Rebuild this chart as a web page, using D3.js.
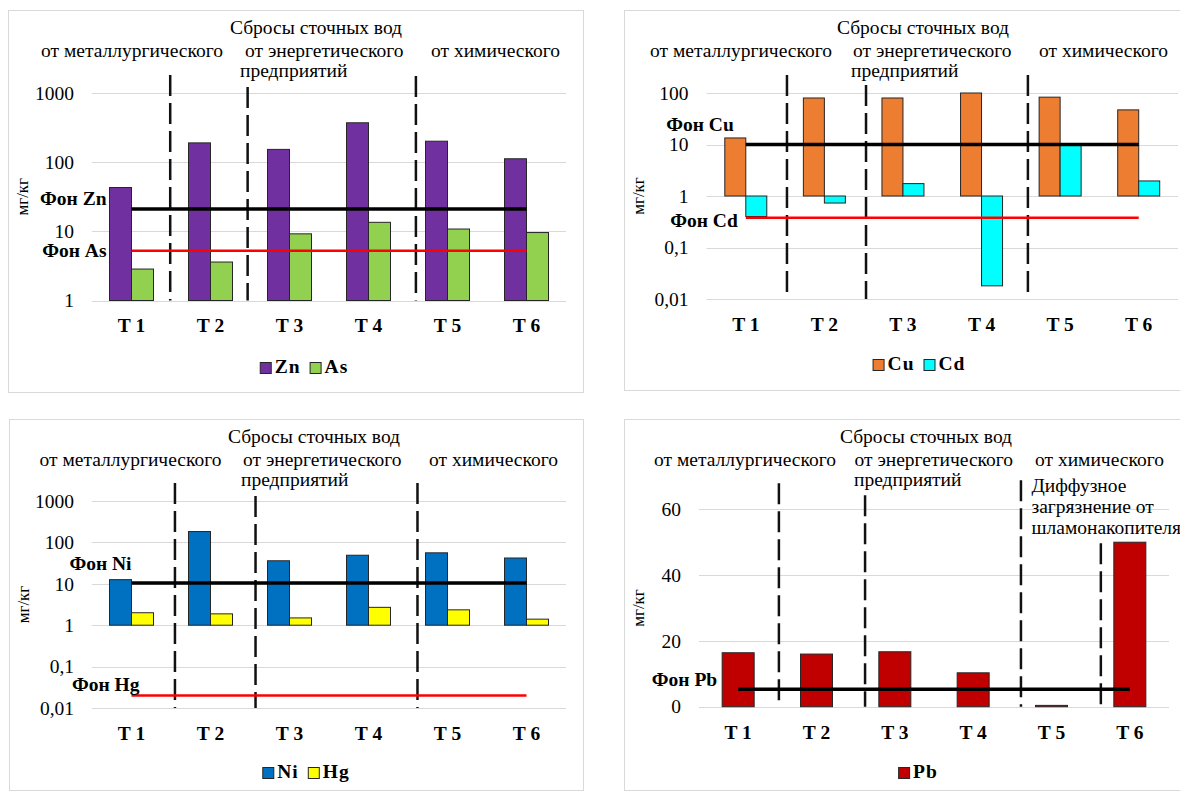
<!DOCTYPE html>
<html>
<head>
<meta charset="utf-8">
<script src="https://cdn.jsdelivr.net/npm/d3@7"></script>
<style>
  body { margin: 0; background: #fff; }
</style>
</head>
<body>
<svg id="chart" width="1180" height="793" font-family="'Liberation Serif', 'Times New Roman', serif"></svg>
<script>
// Sampling points
const categories = ["T 1", "T 2", "T 3", "T 4", "T 5", "T 6"];

// Concentrations, mg/kg
const znValues = [43, 190, 153, 371, 201, 112];
const asValues = [2.85, 3.6, 9.2, 13.5, 10.8, 9.6];
const cuValues = [13.4, 80, 80, 100, 83, 47];
const cdValues = [0.40, 0.73, 1.74, 0.018, 10, 1.96];
const niValues = [12.6, 183, 36, 49, 56, 42];
const hgValues = [2.0, 1.88, 1.5, 2.7, 2.35, 1.4];
const pbValues = [16.4, 16.0, 16.7, 10.3, 0.4, 50];

// Background levels
const fonZn = 21, fonAs = 5.25;
const fonCu = 10, fonCd = 0.38;
const fonNi = 10.5, fonHg = 0.02;
const fonPb = 5.3;

// Axis ticks
const ticksZnAs = [1, 10, 100, 1000];
const ticksCuCd = [0.01, 0.1, 1, 10, 100];
const ticksNiHg = [0.01, 0.1, 1, 10, 100, 1000];
const ticksPb = [0, 20, 40, 60];

// Texts
const headTitle = "Сбросы сточных вод";
const headSources = ["от металлургического", "от энергетического", "от химического"];
const headSub = "предприятий";
const diffuseNote = ["Диффузное", "загрязнение от", "шламонакопителя"];
const yTitle = "мг/кг";

const svg = d3.select("#chart");
const fmt = d => String(d).replace(".", ",");
const TXT = 19.5;

const panels = [
  {
    box: [8, 10, 575, 382], plot: { x0: 92, x1: 566, y0: 93, y1: 300.5 },
    log: true, domain: [1, 1000], ticks: ticksZnAs, tickPad: 18, barWidth: 22,
    series: [{ name: "Zn", values: znValues, color: "#7030A0" }, { name: "As", values: asValues, color: "#92D050" }],
    fon: [{ label: "Фон Zn", value: fonZn, color: "#000", w: 3.5, lx: -25, ly: -9 },
          { label: "Фон As", value: fonAs, color: "#ff0000", w: 2.5, lx: -25, ly: 2 }],
    dividers: [{ f: 0.99, top: -18 }, { f: 1.97, top: -6 }, { f: 4.1, top: -17 }],
    head: [316, 41, 245, 240, 431], legend: [304, 368]
  },
  {
    box: [624, 10, 600, 380], plot: { x0: 706.5, x1: 1178, y0: 93, y1: 299 },
    log: true, domain: [0.01, 100], ticks: ticksCuCd, tickPad: 18, barWidth: 21,
    series: [{ name: "Cu", values: cuValues, color: "#ED7D31" }, { name: "Cd", values: cdValues, color: "#00FFFF" }],
    fon: [{ label: "Фон Cu", value: fonCu, color: "#000", w: 3.5, lx: -12, ly: -18 },
          { label: "Фон Cd", value: fonCd, color: "#ff0000", w: 2.5, lx: -8, ly: 5 }],
    dividers: [{ f: 1.024, top: -18 }, { f: 2.03, top: -8 }, { f: 4.09, top: -18 }],
    head: [923, 650, 853, 851, 1039], legend: [919, 365]
  },
  {
    box: [9, 419, 574, 371], plot: { x0: 92, x1: 566, y0: 501, y1: 708 },
    log: true, domain: [0.01, 1000], ticks: ticksNiHg, tickPad: 18, barWidth: 22,
    series: [{ name: "Ni", values: niValues, color: "#0070C0" }, { name: "Hg", values: hgValues, color: "#FFFF00" }],
    fon: [{ label: "Фон Ni", value: fonNi, color: "#000", w: 3.5, lx: 0, ly: -17 },
          { label: "Фон Hg", value: fonHg, color: "#ff0000", w: 2.5, lx: 8, ly: -9 }],
    dividers: [{ f: 1.05, top: -18 }, { f: 2.07, top: -5 }, { f: 4.12, top: -18 }],
    head: [314, 39.5, 243, 241, 429], legend: [306, 773]
  },
  {
    box: [624, 419, 600, 371], plot: { x0: 699, x1: 1169, y0: 509.3, y1: 706.7 },
    log: false, domain: [0, 60], ticks: ticksPb, tickPad: 18, barWidth: 32,
    series: [{ name: "Pb", values: pbValues, color: "#C00000" }],
    fon: [{ label: "Фон Pb", value: fonPb, color: "#000", w: 3.5, lx: -21, ly: -8 }],
    dividers: [{ f: 1.02, top: -26 }, { f: 2.12, top: -14 }, { f: 4.11, top: -29 }, { f: 5.13, top: 34 }],
    head: [926, 654, 854.5, 854, 1035], legend: [918, 773],
    note: diffuseNote, noteX: 1031.5
  }
];

function drawPanel(p) {
  const [bx, by, bw, bh] = p.box;
  const g = svg.append("g");

  g.append("rect")
    .attr("x", bx + 0.5).attr("y", by + 0.5)
    .attr("width", bw).attr("height", bh)
    .attr("fill", "#fff").attr("stroke", "#d9d9d9");

  const x = d3.scaleBand().domain(categories)
    .range([p.plot.x0, p.plot.x1]);
  const sub = d3.scaleBand().domain(p.series.map(s => s.name))
    .range([-p.barWidth * p.series.length / 2, p.barWidth * p.series.length / 2]);
  const y = (p.log ? d3.scaleLog() : d3.scaleLinear())
    .domain(p.domain).range([p.plot.y1, p.plot.y0]);
  const base = p.log ? 1 : 0;
  const cx = c => x(c) + x.bandwidth() / 2;

  // gridlines
  g.selectAll(".grid").data(p.ticks).join("line")
    .attr("x1", p.plot.x0).attr("x2", p.plot.x1)
    .attr("y1", d => Math.round(y(d)) + 0.5).attr("y2", d => Math.round(y(d)) + 0.5)
    .attr("stroke", "#d9d9d9").attr("stroke-width", 1);

  // y axis labels
  const ya = g.append("g").attr("transform", `translate(${p.plot.x0},0)`)
    .call(d3.axisLeft(y).tickValues(p.ticks).tickFormat(fmt).tickSize(0).tickPadding(p.tickPad));
  ya.select(".domain").remove();
  ya.attr("font-family", null).attr("font-size", TXT);
  ya.selectAll("text").attr("fill", "#000");

  // x axis labels
  const xa = g.append("g").attr("transform", `translate(0,${p.plot.y1})`)
    .call(d3.axisBottom(x).tickSize(0).tickPadding(18));
  xa.select(".domain").remove();
  xa.attr("font-family", null).attr("font-size", TXT);
  xa.selectAll("text").attr("font-weight", "bold").attr("fill", "#000");

  // y title
  g.append("text")
    .attr("transform", `translate(${bx + 16},${(p.plot.y0 + p.plot.y1) / 2}) rotate(-90)`)
    .attr("text-anchor", "middle").attr("dominant-baseline", "middle").attr("font-size", 17)
    .text(yTitle);

  // bars
  p.series.forEach(s => {
    g.selectAll(null).data(s.values).join("rect")
      .attr("x", (d, i) => cx(categories[i]) + sub(s.name))
      .attr("width", sub.bandwidth())
      .attr("y", d => Math.min(y(d), y(base)))
      .attr("height", d => Math.abs(y(d) - y(base)))
      .attr("fill", s.color)
      .attr("stroke", "#262626").attr("stroke-width", 1);
  });

  // divider dashed lines
  g.selectAll(".div").data(p.dividers).join("line")
    .attr("x1", d => p.plot.x0 + d.f * x.step()).attr("x2", d => p.plot.x0 + d.f * x.step())
    .attr("y1", d => p.plot.y0 + d.top).attr("y2", p.plot.y1)
    .attr("stroke", "#111").attr("stroke-width", 2.5)
    .attr("stroke-dasharray", "21,7");

  // background level lines
  const xStart = cx(categories[0]), xEnd = cx(categories[categories.length - 1]);
  p.fon.forEach(f => {
    g.append("line")
      .attr("x1", xStart).attr("x2", xEnd)
      .attr("y1", y(f.value)).attr("y2", y(f.value))
      .attr("stroke", f.color).attr("stroke-width", f.w);
    g.append("text")
      .attr("x", xStart + f.lx).attr("y", y(f.value) + f.ly)
      .attr("text-anchor", "end").attr("dominant-baseline", "middle")
      .attr("font-size", TXT).attr("font-weight", "bold")
      .text(f.label);
  });

  // headings
  const [hTitle, hMet, hEn, hSub, hChem] = p.head;
  g.append("text").attr("x", hTitle).attr("y", by + 20)
    .attr("text-anchor", "middle").attr("dominant-baseline", "middle")
    .attr("font-size", TXT).text(headTitle);
  [hMet, hEn, hChem].forEach((hx, i) => {
    g.append("text").attr("x", hx).attr("y", by + 43)
      .attr("dominant-baseline", "middle").attr("font-size", TXT).text(headSources[i]);
  });
  g.append("text").attr("x", hSub).attr("y", by + 63)
    .attr("dominant-baseline", "middle").attr("font-size", TXT).text(headSub);

  if (p.note) {
    p.note.forEach((t, i) => {
      g.append("text").attr("x", p.noteX).attr("y", by + 69 + i * 21)
        .attr("dominant-baseline", "middle").attr("font-size", TXT).text(t);
    });
  }

  // legend
  const lg = g.append("g");
  let off = 0;
  p.series.forEach(s => {
    const item = lg.append("g").attr("transform", `translate(${off},0)`);
    item.append("rect").attr("x", 0.5).attr("y", -5.5).attr("width", 11).attr("height", 11)
      .attr("fill", s.color).attr("stroke", "#262626");
    const t = item.append("text").attr("x", 15).attr("y", 1)
      .attr("dominant-baseline", "middle").attr("font-size", TXT).attr("font-weight", "bold")
      .attr("letter-spacing", 1).text(s.name);
    off += 15 + t.node().getComputedTextLength() + 9;
  });
  const lw = off - 9;
  lg.attr("transform", `translate(${p.legend[0] - lw / 2},${p.legend[1]})`);
}

panels.forEach(drawPanel);
</script>
</body>
</html>
